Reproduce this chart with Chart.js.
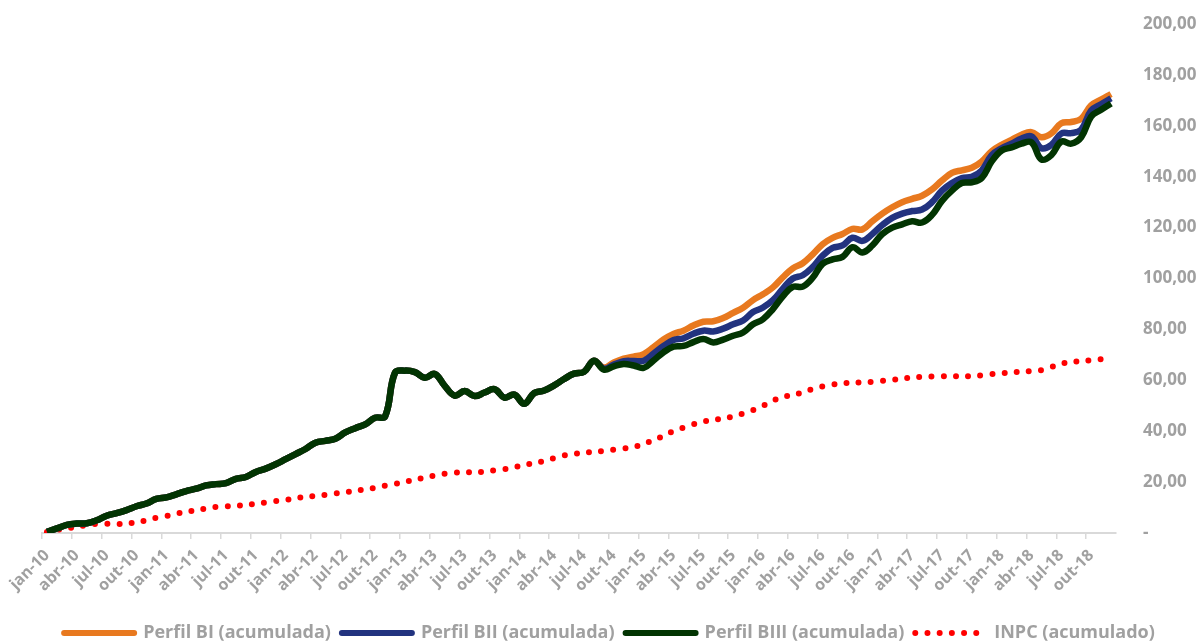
<!DOCTYPE html>
<html lang="pt">
<head>
<meta charset="UTF-8">
<title>Rentabilidade acumulada x INPC</title>
<script src="https://cdn.jsdelivr.net/npm/chart.js"></script>
<style>
  body { margin: 0; background: #fff; }
  #wrap { width: 1203px; height: 644px; }
</style>
</head>
<body>
<div id="wrap"><canvas id="grafico" width="1203" height="644"></canvas></div>
<script>
// categorias: meses de jan-10 a dez-18
const meses = ['jan', 'fev', 'mar', 'abr', 'mai', 'jun', 'jul', 'ago', 'set', 'out', 'nov', 'dez'];
const anos = ['10', '11', '12', '13', '14', '15', '16', '17', '18'];
const rotulos = [];
anos.forEach(a => meses.forEach(m => rotulos.push(m + '-' + a)));

// valores acumulados (%)
const perfilBI = [
  0.5, 1.8, 3.2, 3.7, 3.8, 5.0, 6.8, 7.8, 9.0, 10.5, 11.6, 13.4,
  14.0, 15.2, 16.5, 17.4, 18.7, 19.2, 19.6, 21.3, 22.0, 24.0, 25.3, 27.0,
  29.0, 31.0, 33.0, 35.5, 36.2, 37.0, 39.5, 41.2, 42.7, 45.3, 45.8, 63.0,
  63.8, 63.2, 61.0, 62.5, 57.8, 54.0, 55.8, 53.8, 55.2, 56.5, 53.2, 54.4,
  50.8, 55.0, 56.0, 58.0, 60.5, 62.6, 63.3, 67.7, 65.0, 67.0, 68.5, 69.3,
  70.3, 73.0, 76.0, 78.2, 79.5, 81.5, 83.0, 83.2, 84.5, 86.5, 88.5, 91.5,
  93.8, 96.5, 100.5, 104.0, 106.0, 109.5, 113.5, 116.0, 117.5, 119.5, 119.3, 122.5,
  125.5, 128.0, 130.0, 131.3, 132.5, 135.0, 138.5, 141.5, 142.5, 143.5, 146.0, 150.0,
  152.5, 154.5, 156.5, 157.5, 155.5, 157.0, 161.0, 161.5, 162.8, 168.0, 170.3, 172.5
];
const perfilBII = [
  0.5, 1.8, 3.2, 3.7, 3.8, 5.0, 6.8, 7.8, 9.0, 10.5, 11.6, 13.4,
  14.0, 15.2, 16.5, 17.4, 18.7, 19.2, 19.6, 21.3, 22.0, 24.0, 25.3, 27.0,
  29.0, 31.0, 33.0, 35.5, 36.2, 37.0, 39.5, 41.2, 42.7, 45.3, 45.8, 63.0,
  63.8, 63.2, 61.0, 62.5, 57.8, 54.0, 55.8, 53.8, 55.2, 56.5, 53.2, 54.4,
  50.8, 55.0, 56.0, 58.0, 60.5, 62.6, 63.3, 67.7, 64.6, 66.2, 67.5, 67.6,
  67.7, 70.5, 73.5, 75.8, 76.5, 78.3, 79.5, 79.2, 80.3, 82.0, 83.5, 86.8,
  88.6, 91.5, 96.0, 100.0, 101.3, 104.5, 109.0, 112.0, 113.0, 116.0, 114.8, 117.5,
  121.0, 123.8, 125.5, 126.5, 127.1, 130.0, 134.5, 137.5, 139.5, 140.0, 142.5, 148.5,
  151.2, 153.0, 155.0, 155.8, 151.2, 152.5, 157.0, 157.1, 158.5, 166.0, 168.5, 170.8
];
const perfilBIII = [
  0.5, 1.8, 3.2, 3.7, 3.8, 5.0, 6.8, 7.8, 9.0, 10.5, 11.6, 13.4,
  14.0, 15.2, 16.5, 17.4, 18.7, 19.2, 19.6, 21.3, 22.0, 24.0, 25.3, 27.0,
  29.0, 31.0, 33.0, 35.5, 36.2, 37.0, 39.5, 41.2, 42.7, 45.3, 45.8, 63.0,
  63.8, 63.2, 61.0, 62.5, 57.8, 54.0, 55.8, 53.8, 55.2, 56.5, 53.2, 54.4,
  50.8, 55.0, 56.0, 58.0, 60.5, 62.6, 63.3, 67.7, 64.2, 65.5, 66.4, 65.8,
  64.9, 67.8, 71.0, 73.2, 73.5, 75.0, 76.2, 74.9, 76.0, 77.5, 78.8, 82.0,
  84.0, 88.0, 93.0, 96.7, 96.8, 100.3, 105.8, 107.5, 108.5, 112.3, 110.2, 113.0,
  117.5, 120.0, 121.3, 122.5, 122.0, 125.0, 130.5, 134.5, 137.5, 137.8, 139.5, 146.0,
  150.3, 151.5, 153.0, 153.5, 146.8, 148.5, 153.8, 153.0, 155.5, 163.6, 166.3, 168.8
];
const inpc = [
  0.4, 1.2, 1.8, 2.5, 3.1, 3.6, 3.6, 3.5, 3.7, 4.2, 5.0, 6.0,
  6.7, 7.6, 8.3, 8.9, 9.6, 10.2, 10.5, 10.7, 11.0, 11.5, 12.0, 12.5,
  13.0, 13.6, 14.2, 14.5, 15.0, 15.6, 16.0, 16.6, 17.2, 17.7, 18.6, 19.3,
  20.1, 21.0, 21.8, 22.6, 23.3, 23.7, 23.8, 23.9, 24.1, 24.6, 25.1, 25.9,
  26.7, 27.5, 28.3, 29.4, 30.5, 31.1, 31.5, 31.9, 32.2, 32.7, 33.2, 33.9,
  34.9, 36.6, 38.1, 40.1, 41.4, 42.7, 43.8, 44.4, 45.0, 45.8, 46.9, 48.3,
  50.0, 52.0, 53.3, 54.4, 55.2, 56.6, 57.6, 58.3, 58.9, 59.0, 59.2, 59.4,
  59.8, 60.2, 60.6, 61.1, 61.3, 61.5, 61.6, 61.6, 61.6, 61.6, 62.0, 62.4,
  62.8, 63.1, 63.4, 63.6, 64.0, 65.2, 66.5, 67.3, 67.4, 67.9, 68.3, 68.6
];

const cinza = '#a0a0a0';
const fonte = '"Open Sans", Lato, sans-serif';

function serie(label, data, cor, ordem, extra) {
  return Object.assign({
    label: label,
    data: data,
    borderColor: cor,
    backgroundColor: cor,
    borderWidth: 6.5,
    pointRadius: 0,
    tension: 0.4,
    fill: false,
    order: ordem
  }, extra || {});
}

const ctx = document.getElementById('grafico').getContext('2d');
new Chart(ctx, {
  type: 'line',
  data: {
    labels: rotulos,
    datasets: [
      serie('Perfil BI (acumulada)', perfilBI, '#e8791f', 2),
      serie('Perfil BII (acumulada)', perfilBII, '#22337f', 1),
      serie('Perfil BIII (acumulada)', perfilBIII, '#023402', 0),
      serie('INPC (acumulado)', inpc, '#ff0000', 3, {
        borderDash: [0, 12.2],
        borderCapStyle: 'round',
        borderWidth: 6
      })
    ]
  },
  options: {
    responsive: false,
    animation: false,
    layout: { padding: { left: 16, right: 0, top: 24, bottom: -8 } },
    plugins: {
      tooltip: { enabled: false },
      legend: {
        position: 'bottom',
        labels: {
          usePointStyle: true,
          pointStyleWidth: 70,
          padding: 11,
          color: cinza,
          font: { family: fonte, size: 18, weight: 'bold' },
          generateLabels: chart => chart.data.datasets.map((d, i) => ({
            text: d.label,
            fillStyle: d.borderColor,
            strokeStyle: d.borderColor,
            fontColor: cinza,
            lineWidth: 6,
            lineDash: d.borderDash || [],
            lineCap: 'round',
            pointStyle: 'line',
            hidden: false,
            datasetIndex: i
          }))
        }
      }
    },
    scales: {
      x: {
        offset: true,
        grid: {
          offset: true,
          drawOnChartArea: false,
          drawTicks: true,
          tickLength: 6,
          lineWidth: 1.5,
          color: c => (c.index % 3 === 0 ? '#d9d9d9' : 'rgba(0,0,0,0)')
        },
        border: { display: true, color: '#d9d9d9', width: 2 },
        ticks: {
          autoSkip: false,
          minRotation: 45,
          maxRotation: 45,
          padding: 7,
          color: cinza,
          font: { family: fonte, size: 16, weight: 'bold' },
          callback: function (v, i) { return i % 3 === 0 ? this.getLabelForValue(v) : ''; }
        },
        afterFit: s => {
          s.height = 80;
          s.paddingLeft = 42;
        }
      },
      y: {
        position: 'right',
        min: 0,
        max: 200,
        grid: { display: false, drawTicks: false },
        border: { display: false },
        ticks: {
          stepSize: 20,
          padding: 27,
          color: cinza,
          font: { family: fonte, size: 17, weight: 'bold' },
          callback: v => (v === 0 ? '-' : v.toFixed(2).replace('.', ','))
        },
        afterFit: s => {
          s.width = 87;
          s.paddingTop = 0;
          s.paddingBottom = 0;
        }
      }
    }
  }
});
</script>
</body>
</html>
